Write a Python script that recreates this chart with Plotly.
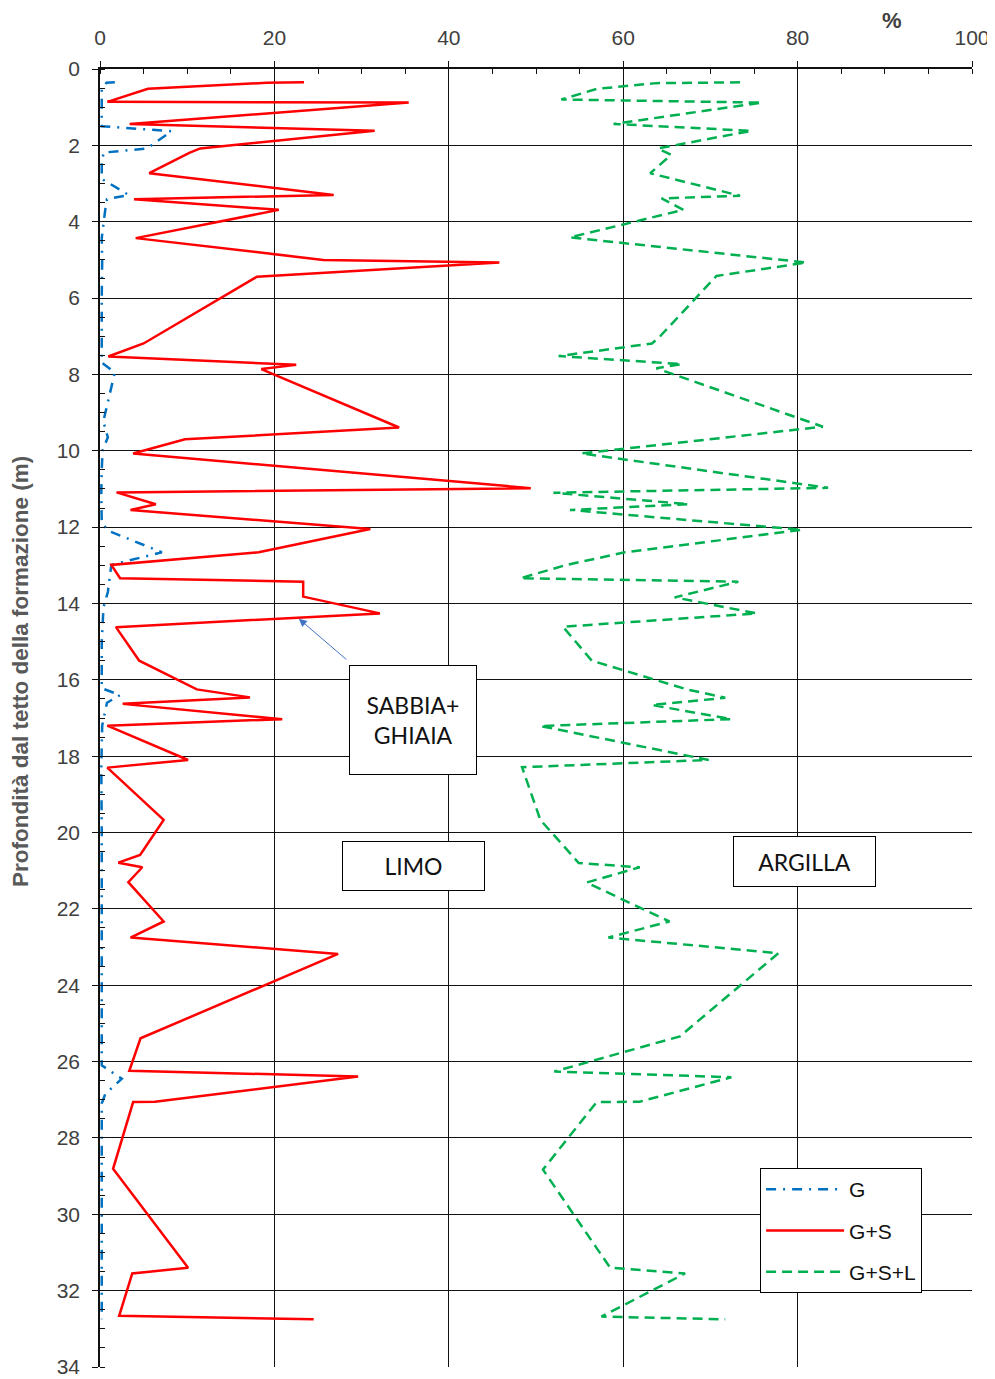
import plotly.graph_objects as go

# ---- data ----
depth_g = [0.35, 0.36, 0.52, 0.86, 1.20, 1.50, 1.63, 2.08, 2.19, 2.50, 2.88, 3.30, 3.41, 3.69, 4.43,
           5.0, 6.0, 7.19, 7.69, 7.95, 8.47, 8.95, 9.23, 9.65, 9.98, 10.5, 11.09, 11.9, 12.10, 12.66,
           12.99, 13.70, 14.10, 15.0, 16.22, 16.40, 16.60, 17.20, 18.30, 20.0, 22.0, 24.0, 26.10,
           26.45, 26.85, 27.10, 29.0, 31.0, 32.75]
g = [1.7, 0.75, 0.2, 0.2, 0.15, 0.2, 8.2, 5.4, 0.4, 0.2, 0.2, 3.3, 0.8, 0.6, 0.2,
     0.25, 0.2, 0.15, 0.2, 1.7, 1.15, 0.6, 0.38, 0.9, 0.3, 0.2, 0.15, 0.2, 1.0, 7.1,
     1.3, 0.9, 0.4, 0.2, 0.2, 2.3, 0.8, 0.25, 0.15, 0.2, 0.2, 0.15, 0.2,
     2.5, 0.6, 0.2, 0.2, 0.15, 0.2]

depth_gs = [0.35, 0.36, 0.52, 0.86, 0.88, 1.44, 1.62, 2.08, 2.19, 2.73, 3.30, 3.41, 3.69, 4.43, 5.00,
            5.07, 5.44, 7.19, 7.53, 7.75, 7.86, 9.39, 9.70, 10.07, 10.98, 11.09, 11.40, 11.55, 12.05,
            12.66, 12.99, 13.34, 13.43, 13.82, 14.26, 14.62, 15.50, 16.25, 16.46, 16.63, 17.03, 17.20,
            18.10, 18.30, 19.67, 20.59, 20.79, 20.91, 21.30, 22.33, 22.75, 23.18, 25.39, 26.24, 26.39,
            27.05, 27.06, 28.81, 31.40, 31.55, 32.66, 32.75]
gs = [23.4, 19.1, 5.5, 0.85, 35.4, 3.4, 31.5, 11.5, 10.3, 5.65, 26.8, 3.9, 20.5, 4.1, 25.6,
      45.8, 18.0, 5.0, 0.95, 22.5, 18.5, 34.3, 9.75, 3.8, 49.4, 1.9, 6.4, 3.5, 31.0,
      18.2, 1.3, 2.3, 23.3, 23.3, 32.1, 1.83, 4.5, 11.1, 17.2, 2.6, 20.9, 0.84,
      10.1, 0.84, 7.3, 4.6, 2.1, 4.85, 3.25, 7.3, 3.5, 27.3, 4.65, 3.36, 29.6,
      6.3, 3.8, 1.5, 10.1, 3.7, 2.2, 24.5]

depth_gsl = [0.35, 0.37, 0.52, 0.80, 0.88, 1.44, 1.62, 1.99, 2.08, 2.25, 2.73, 3.32, 3.39, 3.69,
             4.41, 5.07, 5.42, 7.01, 7.19, 7.52, 7.73, 7.84, 9.37, 10.07, 10.97, 11.10, 11.40, 11.55,
             12.07, 12.66, 12.99, 13.34, 13.43, 13.84, 14.26, 14.61, 15.50, 16.25, 16.47, 16.66,
             17.03, 17.21, 18.10, 18.29, 19.67, 20.59, 20.80, 20.91, 21.31, 22.33, 22.75, 23.16,
             25.34, 26.26, 26.41, 27.05, 27.06, 28.83, 31.40, 31.55, 32.68, 32.75]
gsl = [73.4, 63.8, 57.0, 52.9, 75.9, 58.9, 74.7, 66.1, 64.0, 65.5, 63.1, 73.4, 64.4, 66.9,
       53.9, 81.0, 70.7, 64.2, 63.3, 52.6, 66.7, 63.8, 82.9, 55.2, 83.5, 52.0, 67.5, 53.9,
       80.5, 60.2, 53.5, 48.2, 73.2, 65.9, 75.3, 53.1, 56.4, 67.3, 71.7, 63.3,
       72.4, 50.5, 69.8, 48.4, 50.5, 54.1, 54.9, 61.9, 55.8, 65.3, 58.3, 77.8,
       66.5, 52.1, 72.4, 61.9, 56.95, 50.8, 58.5, 67.1, 57.5, 71.7]

series_names = ["G", "G+S", "G+S+L"]
x_ticks = [0, 20, 40, 60, 80, 100]
y_ticks = list(range(0, 35, 2))

TICK_FONT = dict(family="Liberation Sans, Arial, sans-serif", size=21, color="#404040")
BOX_FONT = dict(family="Lato, Carlito, sans-serif", size=23, color="#111111")

fig = go.Figure()
fig.add_trace(go.Scatter(x=g, y=depth_g, mode="lines", name=series_names[0], legendgroup="a",
                         line=dict(color="#0070C0", width=2.5, dash="10px,7px,2px,7px")))
fig.add_trace(go.Scatter(x=gs, y=depth_gs, mode="lines", name=series_names[1], legendgroup="b",
                         line=dict(color="#FF0000", width=2.5)))
fig.add_trace(go.Scatter(x=gsl, y=depth_gsl, mode="lines", name=series_names[2], legendgroup="c",
                         line=dict(color="#00B050", width=2.5, dash="10px,6px")))

# the page adds an 8px body margin, so the figure is 8px smaller than the window
fig.update_layout(
    width=987, height=1371,
    margin=dict(l=92, r=23, t=61, b=12),
    paper_bgcolor="white", plot_bgcolor="white",
    showlegend=True,
    legend=dict(x=0.757, y=0.1533, xanchor="left", yanchor="top",
                bgcolor="white", bordercolor="#000000", borderwidth=1,
                font=dict(family="Liberation Sans, Arial, sans-serif", size=21, color="#111111"),
                tracegroupgap=11, itemwidth=78),
)

fig.update_xaxes(
    side="top", range=[0, 100], tickvals=x_ticks, ticktext=[str(v) for v in x_ticks],
    showgrid=True, gridcolor="#111111", gridwidth=1.3,
    showline=True, linecolor="#111111", linewidth=1.5,
    ticks="outside", ticklen=6, tickcolor="#111111", tickwidth=1.3,
    minor=dict(dtick=5, ticks="inside", ticklen=5, tickcolor="#111111", showgrid=False),
    zeroline=False, tickfont=TICK_FONT, ticklabelstandoff=8, automargin=False,
)
fig.update_yaxes(
    range=[34, 0], tickvals=y_ticks, ticktext=[str(v) for v in y_ticks],
    showgrid=True, gridcolor="#111111", gridwidth=1.3,
    showline=True, linecolor="#111111", linewidth=1.5,
    ticks="outside", ticklen=6, tickcolor="#111111", tickwidth=1.3,
    minor=dict(dtick=0.5, ticks="inside", ticklen=5, tickcolor="#111111", showgrid=False),
    zeroline=False, tickfont=TICK_FONT, ticklabelstandoff=8, automargin=False,
)

# axis title (y) and unit label
fig.add_annotation(xref="paper", yref="paper", x=-0.092, y=0.536, xanchor="center", yanchor="middle",
                   text="<b>Profondità dal tetto della formazione (m)</b>", textangle=-90, showarrow=False,
                   font=dict(family="Liberation Sans, Arial, sans-serif", size=22.5, color="#595959"))
fig.add_annotation(xref="paper", yref="paper", x=0.908, y=1.0, yshift=49, xanchor="center", yanchor="middle",
                   text="<b>%</b>", showarrow=False,
                   font=dict(family="Liberation Sans, Arial, sans-serif", size=22, color="#404040"))

# labelled boxes
fig.add_annotation(x=35.9, y=17.05, text="SABBIA+<br>GHIAIA", showarrow=False,
                   width=126, height=108, bgcolor="white", bordercolor="#000000", borderwidth=1,
                   borderpad=0, font=BOX_FONT)
fig.add_annotation(x=35.95, y=20.88, text="LIMO", showarrow=False,
                   width=141, height=48, bgcolor="white", bordercolor="#000000", borderwidth=1,
                   borderpad=0, font=BOX_FONT)
fig.add_annotation(x=80.8, y=20.76, text="ARGILLA", showarrow=False,
                   width=141, height=49, bgcolor="white", bordercolor="#000000", borderwidth=1,
                   borderpad=0, font=BOX_FONT)
# arrow from the SABBIA+GHIAIA box to the red curve
fig.add_annotation(x=22.8, y=14.4, ax=49, ay=42, text="", showarrow=True,
                   arrowhead=2, arrowsize=1.6, arrowwidth=1, arrowcolor="#4472C4")

fig.write_html("out.html")
